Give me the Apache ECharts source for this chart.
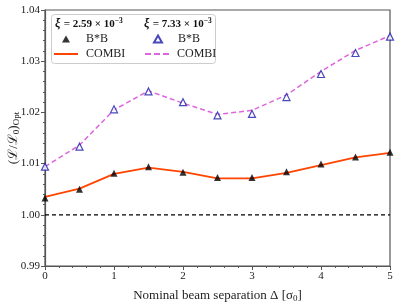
<!DOCTYPE html>
<html><head><meta charset="utf-8">
<script src="https://cdn.jsdelivr.net/npm/echarts@6/dist/echarts.min.js"></script>
<style>html,body{margin:0;padding:0;background:#fff}#c{width:399px;height:302px}</style>
</head><body><div id="c"></div>
<script>
var separations = [0, 0.5, 1, 1.5, 2, 2.5, 3, 3.5, 4, 4.5, 5];
var bbLow = [1.0033, 1.0050, 1.0081, 1.0094, 1.0083, 1.0073, 1.0073, 1.0084, 1.0099, 1.0113, 1.0122];
var combiLow = [1.0035, 1.0051, 1.0080, 1.0092, 1.0084, 1.0071, 1.0071, 1.0082, 1.0097, 1.0112, 1.0121];
var bbHigh = [1.0094, 1.0133, 1.0206, 1.0241, 1.0220, 1.0194, 1.0197, 1.0230, 1.0275, 1.0316, 1.0348];
var combiHigh = [1.0094, 1.0136, 1.0205, 1.0242, 1.0218, 1.0196, 1.0204, 1.0234, 1.0280, 1.0321, 1.0350];
var xTicks = [0, 1, 2, 3, 4, 5];
var yTicks = [0.99, 1.00, 1.01, 1.02, 1.03, 1.04];
var reference = 1.0;

function pairs(xs, ys){ return xs.map(function(x,i){ return [x, ys[i]]; }); }
var SERIF = '"Liberation Serif", "DejaVu Serif", serif';
var AX = '#555';
var LEG_TEXT = {fontFamily: SERIF, fontSize: 12, color: '#222'};
var solidIcon = 'path://M0,0h24v2h-24z';
var dashIcon = 'path://M0,0h6v2h-6z M9,0h6v2h-6z M18,0h6v2h-6z';

function legendItem(name, left, top, icon, w, h, pad){
  return {left: left, top: top, orient: 'horizontal', itemWidth: w, itemHeight: h, padding: 0,
    symbolKeepAspect: true, selectedMode: false,
    textStyle: Object.assign({padding: [0,0,0,pad]}, LEG_TEXT),
    data: [{name: name, icon: icon}]};
}

var chart = echarts.init(document.getElementById('c'), null, {renderer:'canvas'});
chart.setOption({
  animation: false,
  textStyle: {fontFamily: SERIF},
  grid: {left: 45, right: 9, top: 10, bottom: 36, containLabel: false, outerBoundsMode: 'none',
         show: true, borderColor: AX, borderWidth: 1.2},
  xAxis: {
    type: 'value', min: xTicks[0], max: xTicks[xTicks.length-1], interval: 1,
    name: 'Nominal beam separation Δ [σ{sub|0}]',
    nameLocation: 'middle', nameGap: 22, nameMoveOverlap: false,
    nameTextStyle: {fontFamily: SERIF, fontSize: 13, color: '#222', rich: {sub: {fontFamily: SERIF, fontSize: 9, verticalAlign: 'bottom', padding: [6,0,0,0], color:'#222'}}},
    axisLine: {show: true, lineStyle: {color: AX, width: 1.2}},
    axisTick: {show: true, length: 4, lineStyle: {color: AX}},
    minorTick: {show: true, splitNumber: 5, length: 2, lineStyle: {color: AX}},
    splitLine: {show: false},
    axisLabel: {fontFamily: SERIF, fontSize: 11, color: '#222', margin: 5}
  },
  yAxis: {
    type: 'value', min: yTicks[0], max: yTicks[yTicks.length-1], interval: 0.01,
    name: '(ℒ/ℒ{sub|0}){sub|Opt}',
    nameLocation: 'middle', nameGap: 24, nameRotate: 90, nameMoveOverlap: false,
    nameTextStyle: {fontFamily: SERIF, fontSize: 13, color: '#222', rich: {sub: {fontFamily: SERIF, fontSize: 9, verticalAlign: 'bottom', padding: [6,0,0,0], color:'#222'}}},
    axisLine: {show: true, lineStyle: {color: AX, width: 1.2}},
    axisTick: {show: true, length: 4, lineStyle: {color: AX}},
    minorTick: {show: true, splitNumber: 5, length: 2, lineStyle: {color: AX}},
    splitLine: {show: false},
    axisLabel: {fontFamily: SERIF, fontSize: 11, color: '#222', margin: 5, formatter: function(v){ return v.toFixed(2); }}
  },
  legend: [
    legendItem('B*B', 62, 33, 'triangle', 8, 7, 11),
    legendItem('COMBI', 54, 48, solidIcon, 24, 2, 3),
    legendItem('B*B ', 153, 33, 'triangle', 8, 7, 11),
    legendItem('COMBI ', 145, 48, dashIcon, 24, 2, 3)
  ],
  graphic: [
    {type: 'rect', left: 51, top: 14, shape: {width: 164, height: 49, r: 3}, style: {fill: 'rgba(255,255,255,0.8)', stroke: '#ccc', lineWidth: 1}, z: 0},
    {type: 'text', left: 55, top: 17, z: 10, style: {text: '{b|ξ} {n|= 2.59 × 10}{s|−3}', rich: {
      b: {fontFamily: SERIF, fontWeight: 'bold', fontStyle: 'italic', fontSize: 12, fill: '#111'},
      n: {fontFamily: SERIF, fontWeight: 'bold', fontSize: 11, fill: '#111'},
      s: {fontFamily: SERIF, fontWeight: 'bold', fontSize: 7.5, fill: '#111', verticalAlign: 'top', padding: [0,0,6,0]}}}},
    {type: 'text', left: 144, top: 17, z: 10, style: {text: '{b|ξ} {n|= 7.33 × 10}{s|−3}', rich: {
      b: {fontFamily: SERIF, fontWeight: 'bold', fontStyle: 'italic', fontSize: 12, fill: '#111'},
      n: {fontFamily: SERIF, fontWeight: 'bold', fontSize: 11, fill: '#111'},
      s: {fontFamily: SERIF, fontWeight: 'bold', fontSize: 7.5, fill: '#111', verticalAlign: 'top', padding: [0,0,6,0]}}}}
  ],
  series: [
    {name: 'ref', type: 'line', data: [[xTicks[0], reference], [xTicks[xTicks.length-1], reference]], symbol: 'none',
     lineStyle: {color: '#000', width: 1.2, type: [4, 3]}, silent: true, z: 1},
    {name: 'COMBI', type: 'line', data: pairs(separations, combiLow), symbol: 'none',
     lineStyle: {color: '#ff4500', width: 1.8}, itemStyle: {color: '#ff4500'}, z: 2},
    {name: 'COMBI ', type: 'line', data: pairs(separations, combiHigh), symbol: 'none',
     lineStyle: {color: '#dd66dd', width: 1.5, type: [5, 3]}, itemStyle: {color: '#dd66dd'}, z: 2},
    {name: 'B*B', type: 'scatter', data: pairs(separations, bbLow), symbol: 'triangle', symbolSize: 7,
     itemStyle: {color: '#000'}, z: 3},
    {name: 'B*B ', type: 'scatter', data: pairs(separations, bbHigh), symbol: 'triangle', symbolSize: 7,
     itemStyle: {color: '#fff', borderColor: '#1c1ca8', borderWidth: 1.2}, z: 3}
  ]
});
</script></body></html>
